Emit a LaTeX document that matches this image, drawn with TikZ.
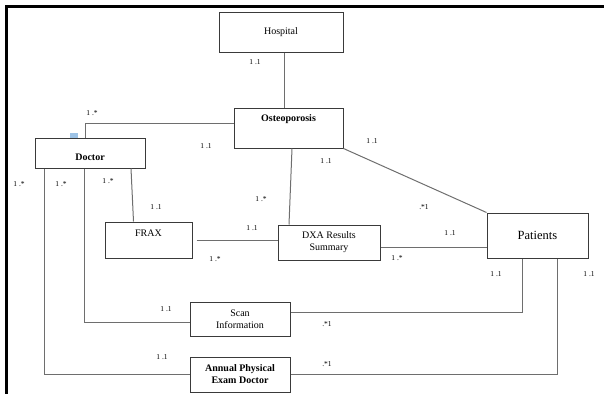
\documentclass[tikz,border=0pt]{standalone}
\usepackage{fontspec}
\setmainfont{Liberation Serif}
\definecolor{boxgray}{HTML}{3A3A3A}
\definecolor{linkgray}{HTML}{6E6E6E}
\definecolor{handle}{HTML}{9DC3E6}
\begin{document}
\begin{tikzpicture}[x=1pt, y=-1pt,
box/.style={draw=boxgray, line width=1pt, align=center, inner sep=1pt, font=\fontsize{10}{12}\selectfont},
boldbox/.style={box, font=\fontsize{10}{12}\selectfont\bfseries},
mult/.style={font=\fontsize{7.5}{8}\selectfont, inner sep=0pt},
link/.style={draw=linkgray, line width=1pt}]
\useasboundingbox (0,0) rectangle (604,394);
\draw[line width=3.5pt] (604,6.5) -| (6.5,394);
\fill[handle] (70,133) rectangle (78,138);

\node[box, minimum width=124pt, minimum height=40pt] (hospital) at (281,32) {Hospital};
\node[boldbox, minimum width=109pt, minimum height=40pt, text height=7pt, text depth=21pt] (osteoporosis) at (288.5,128) {Osteoporosis};
\node[boldbox, minimum width=110pt, minimum height=30pt, text height=15pt, text depth=0pt] (doctor) at (90,153) {Doctor};
\node[box, minimum width=87pt, minimum height=36pt, text height=7pt, text depth=15pt] (frax) at (148.5,240) {FRAX};
\node[box, minimum width=102pt, minimum height=35pt] (dxa) at (329,242.5) {DXA Results\\Summary};
\node[box, font=\fontsize{12.5}{14}\selectfont, minimum width=101pt, minimum height=45pt] (patients) at (537.5,235.5) {Patients};
\node[box, minimum width=100pt, minimum height=34pt] (scan) at (240,319) {Scan\\Information};
\node[boldbox, minimum width=100pt, minimum height=35pt] (annual) at (240,374.5) {Annual Physical\\Exam Doctor};

\draw[link] ([xshift=3pt]hospital.south) -- ([xshift=3pt]hospital.south |- osteoporosis.north);
\draw[link] ([yshift=5pt]osteoporosis.west) -| ([xshift=-5pt]doctor.north);
\draw[link] ([xshift=3.5pt]osteoporosis.south) -- ([xshift=-40pt]dxa.north);
\draw[link] (osteoporosis.south east) -- (patients.north west);
\draw[link] ([xshift=41pt]doctor.south) -- ([xshift=-15pt]frax.north);
\draw[link] ([xshift=-6pt]doctor.south) |- ([yshift=-3pt]scan.west);
\draw[link] ([xshift=-46pt]doctor.south) |- (annual.west);
\draw[link] ([xshift=4pt]frax.east) -- (frax.east -| dxa.west);
\draw[link] ([yshift=-4.5pt]dxa.east) -- ([yshift=-4.5pt]dxa.east -| patients.west);
\draw[link] ([yshift=7pt]scan.east) -| ([xshift=-15.5pt]patients.south);
\draw[link] (annual.east) -| ([xshift=19.5pt]patients.south);

\node[mult] (c1) at (255,62) {1 .1};
\node[mult] (c2) at (92,113) {1 .*};
\node[mult] (c3) at (206,146) {1 .1};
\node[mult] (c4) at (372,141) {1 .1};
\node[mult] (c5) at (326,161) {1 .1};
\node[mult] (c6) at (19,184) {1 .*};
\node[mult] (c7) at (61,184) {1 .*};
\node[mult] (c8) at (108,181) {1 .*};
\node[mult] (c9) at (156,207) {1 .1};
\node[mult] (c10) at (261,199) {1 .*};
\node[mult] (c11) at (252,228) {1 .1};
\node[mult] (c12) at (215,259) {1 .*};
\node[mult] (c13) at (424,207) {.*1};
\node[mult] (c14) at (450,233) {1 .1};
\node[mult] (c15) at (397,258) {1 .*};
\node[mult] (c16) at (496,274) {1 .1};
\node[mult] (c17) at (589,274) {1 .1};
\node[mult] (c18) at (166,309) {1 .1};
\node[mult] (c19) at (327,324) {.*1};
\node[mult] (c20) at (162,357) {1 .1};
\node[mult] (c21) at (327,364) {.*1};
\end{tikzpicture}
\end{document}
